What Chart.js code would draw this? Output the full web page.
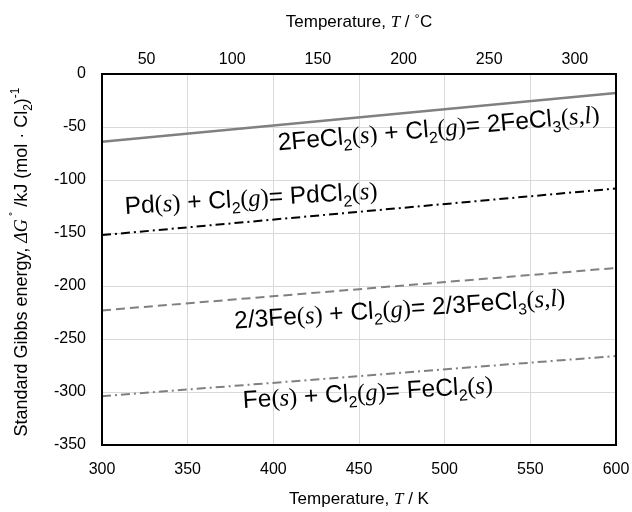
<!DOCTYPE html>
<html>
<head>
<meta charset="utf-8">
<script src="https://cdn.jsdelivr.net/npm/chart.js@4.4.1/dist/chart.umd.min.js"></script>
<style>html, body { margin: 0; padding: 0; background: #fff }</style>
</head>
<body>
<canvas id="chart" width="632" height="512"></canvas>
<script>
// reaction lines, Gibbs energy in kJ per mol Cl2 at the two end temperatures
const temps = [300, 600]
const fecl3Line = [-64, -18]
const pdLine = [-152, -108]
const fe23Line = [-223, -183]
const feLine = [-304, -266]

const kelvinTicks = [300, 350, 400, 450, 500, 550, 600]
const celsiusTicks = [50, 100, 150, 200, 250, 300]
const gibbsTicks = [0, -50, -100, -150, -200, -250, -300, -350]

const SANS = '"Liberation Sans", Arial, sans-serif'
const SERIF = '"Liberation Serif", "Times New Roman", serif'

// rich text: [style, text] pairs
function fontFor(style, size) {
  if (style === 'i') return 'italic ' + size + 'px ' + SERIF
  if (style === 'p') return size + 'px ' + SERIF
  if (style === 'sub' || style === 'sup') return Math.round(size * 0.65) + 'px ' + SANS
  return size + 'px ' + SANS
}

function drawRich(ctx, segs, x, y, size, angle, align) {
  ctx.save()
  ctx.translate(x, y)
  ctx.rotate(angle)
  ctx.fillStyle = '#000'
  ctx.textBaseline = 'alphabetic'
  ctx.textAlign = 'left'
  let total = 0
  for (const [st, t] of segs) { ctx.font = fontFor(st, size); total += ctx.measureText(t).width }
  let cx = align === 'center' ? -total / 2 : 0
  for (const [st, t] of segs) {
    ctx.font = fontFor(st, size)
    const dy = st === 'sub' ? size * 0.25 : st === 'sup' ? -size * 0.42 : 0
    ctx.fillText(t, cx, dy)
    cx += ctx.measureText(t).width
  }
  ctx.restore()
}

const reactionLabels = [
  { x: 403, y: -72, deg: 5, segs: [['n', '2FeCl'], ['sub', '2'], ['p', '('], ['i', 's'], ['p', ')'], ['n', ' + Cl'], ['sub', '2'], ['p', '('], ['i', 'g'], ['p', ')'], ['n', '= 2FeCl'], ['sub', '3'], ['p', '('], ['i', 's,l'], ['p', ')']] },
  { x: 313.5, y: -132, deg: 3.5, segs: [['n', 'Pd'], ['p', '('], ['i', 's'], ['p', ')'], ['n', ' + Cl'], ['sub', '2'], ['p', '('], ['i', 'g'], ['p', ')'], ['n', '= PdCl'], ['sub', '2'], ['p', '('], ['i', 's'], ['p', ')']] },
  { x: 377.5, y: -240, deg: 4, segs: [['n', '2/3Fe'], ['p', '('], ['i', 's'], ['p', ')'], ['n', ' + Cl'], ['sub', '2'], ['p', '('], ['i', 'g'], ['p', ')'], ['n', '= 2/3FeCl'], ['sub', '3'], ['p', '('], ['i', 's,l'], ['p', ')']] },
  { x: 382.5, y: -315, deg: 3.5, segs: [['n', 'Fe'], ['p', '('], ['i', 's'], ['p', ')'], ['n', ' + Cl'], ['sub', '2'], ['p', '('], ['i', 'g'], ['p', ')'], ['n', '= FeCl'], ['sub', '2'], ['p', '('], ['i', 's'], ['p', ')']] }
]

const annotations = {
  id: 'annotations',
  afterDatasetsDraw(chart) {
    const { ctx, chartArea: a, scales } = chart
    ctx.save()
    ctx.strokeStyle = '#000'
    ctx.lineWidth = 2
    ctx.strokeRect(a.left, a.top, a.right - a.left, a.bottom - a.top)
    ctx.restore()
    for (const l of reactionLabels) {
      drawRich(ctx, l.segs, scales.x.getPixelForValue(l.x), scales.y.getPixelForValue(l.y), 24.5, -l.deg * Math.PI / 180, 'left')
    }
  },
  afterDraw(chart) {
    const { ctx, chartArea: a } = chart
    const mid = (a.left + a.right) / 2
    drawRich(ctx, [['n', 'Temperature, '], ['i', 'T'], ['n', ' / K']], mid, 504, 17, 0, 'center')
    drawRich(ctx, [['n', 'Temperature, '], ['i', 'T'], ['n', ' / '], ['p', '˚'], ['n', 'C']], mid, 27, 17, 0, 'center')
    drawRich(ctx, [['n', 'Standard Gibbs energy, '], ['i', 'ΔG'], ['sup', ' ˚'], ['n', ' /kJ (mol · Cl'], ['sub', '2'], ['n', ')'], ['sup', '-1']],
      27, 262, 18, -Math.PI / 2, 'center')
  }
}

const pts = vals => temps.map((t, i) => ({ x: t, y: vals[i] }))
const grid = { color: '#d9d9d9', lineWidth: 1, drawTicks: false }
const tickFont = { family: SANS, size: 16 }
const noSidePad = s => { s.paddingLeft = 0; s.paddingRight = 0 }

new Chart(document.getElementById('chart'), {
  type: 'line',
  data: {
    datasets: [
      { data: pts(fecl3Line), borderColor: '#808080', borderWidth: 2.5 },
      { data: pts(pdLine), borderColor: '#000', borderWidth: 2, borderDash: [9, 4, 2, 4] },
      { data: pts(fe23Line), borderColor: '#808080', borderWidth: 2, borderDash: [9, 5] },
      { data: pts(feLine), borderColor: '#808080', borderWidth: 2, borderDash: [9, 4, 2, 4] }
    ]
  },
  options: {
    responsive: false,
    animation: false,
    devicePixelRatio: 1,
    layout: { padding: { left: 0, right: 16, top: 0, bottom: 0 } },
    elements: { point: { radius: 0 }, line: { tension: 0 } },
    plugins: { legend: { display: false }, tooltip: { enabled: false } },
    scales: {
      x: {
        type: 'linear', position: 'bottom', min: 300, max: 600,
        afterBuildTicks: s => { s.ticks = kelvinTicks.map(v => ({ value: v })) },
        afterFit: s => { s.height = 67; noSidePad(s) },
        ticks: { color: '#000', font: tickFont, padding: 15, maxRotation: 0 },
        grid, border: { color: '#000', width: 2 }
      },
      x2: {
        type: 'linear', position: 'top', min: 24, max: 324,
        afterBuildTicks: s => { s.ticks = celsiusTicks.map(v => ({ value: v })) },
        afterFit: s => { s.height = 74; noSidePad(s) },
        ticks: { color: '#000', font: tickFont, padding: 5, maxRotation: 0 },
        grid: { display: false, drawTicks: false }, border: { color: '#000', width: 2 }
      },
      y: {
        type: 'linear', min: -350, max: 0,
        afterBuildTicks: s => { s.ticks = gibbsTicks.map(v => ({ value: v })) },
        afterFit: s => { s.width = 102; s.paddingTop = 0; s.paddingBottom = 0 },
        ticks: { color: '#000', font: tickFont, padding: 16 },
        grid, border: { color: '#000', width: 2 }
      }
    }
  },
  plugins: [annotations]
})
</script>
</body>
</html>
